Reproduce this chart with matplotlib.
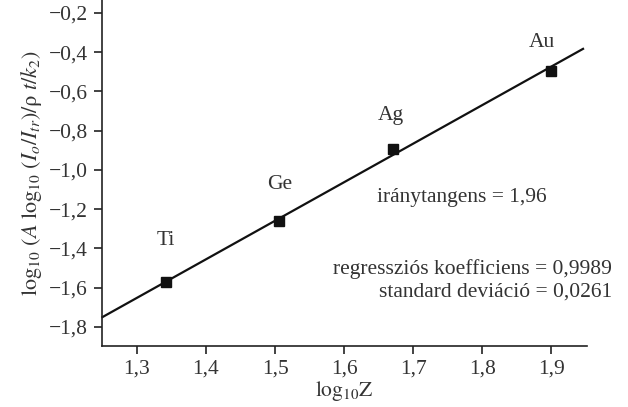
import matplotlib
matplotlib.use("Agg")
import matplotlib.pyplot as plt
from matplotlib.ticker import FixedLocator

plt.rcParams['font.family'] = ['Liberation Serif', 'DejaVu Serif']
plt.rcParams['mathtext.fontset'] = 'stix'

elements = ['Ti', 'Ge', 'Ag', 'Au']
log_z = [1.342, 1.506, 1.671, 1.899]
log_val = [-1.57, -1.262, -0.893, -0.494]

fit_x = [1.25, 1.946]
fit_y = [-1.75, -0.383]

x_ticks = [1.3, 1.4, 1.5, 1.6, 1.7, 1.8, 1.9]
x_labels = ['1,3', '1,4', '1,5', '1,6', '1,7', '1,8', '1,9']
y_ticks = [-1.8, -1.6, -1.4, -1.2, -1.0, -0.8, -0.6, -0.4, -0.2]
y_labels = ['\u22121,8', '\u22121,6', '\u22121,4', '\u22121,2', '\u22121,0',
            '\u22120,8', '\u22120,6', '\u22120,4', '\u22120,2']

slope_text = 'iránytangens = 1,96'
stats_text = ['regressziós koefficiens = 0,9989', 'standard deviáció = 0,0261']

fig = plt.figure(figsize=(6.28, 4.07), dpi=100)
ax = fig.add_axes([0.162, 0.150, 0.773, 0.850])

ax.plot(fit_x, fit_y, color='#111111', lw=1.6, clip_on=False, zorder=2)
ax.plot(log_z, log_val, linestyle='none', marker='s', markersize=7,
        color='#111111', zorder=3)

fs = 15.5
label_offsets = {'Ti': (0, 0.21), 'Ge': (0, 0.19), 'Ag': (-0.004, 0.17), 'Au': (-0.013, 0.145)}
for name, x, y in zip(elements, log_z, log_val):
    dx, dy = label_offsets[name]
    ax.text(x + dx, y + dy, name, ha='center', va='center', fontsize=fs, color='#333333')

ax.text(1.77, -1.143, slope_text, ha='center', va='center', fontsize=fs, color='#333333')
ax.text(1.988, -1.504, stats_text[0], ha='right', va='center', fontsize=fs, color='#333333')
ax.text(1.988, -1.622, stats_text[1], ha='right', va='center', fontsize=fs, color='#333333')

ax.set_xlim(1.249, 1.952)
ax.set_ylim(-1.897, -0.134)
ax.xaxis.set_major_locator(FixedLocator(x_ticks))
ax.set_xticklabels(x_labels)
ax.yaxis.set_major_locator(FixedLocator(y_ticks))
ax.set_yticklabels(y_labels)

for s in ['top', 'right']:
    ax.spines[s].set_visible(False)
for s in ['left', 'bottom']:
    ax.spines[s].set_linewidth(1.2)
    ax.spines[s].set_color('#222222')

ax.tick_params(direction='out', length=6, width=1.2, colors='#222222',
               labelsize=fs, labelcolor='#333333', pad=4)

ax.set_xlabel(r'$\mathrm{log}_{10}\mathrm{Z}$', fontsize=15.5, color='#333333', labelpad=0)
ax.set_ylabel(r'$\mathrm{log}_{10}\ (A\ \mathrm{log}_{10}\ (I_o/I_{tr})/\mathrm{\rho}\ t/k_2)$',
              fontsize=16, color='#333333', labelpad=3)

fig.savefig('out.png', dpi=100)
